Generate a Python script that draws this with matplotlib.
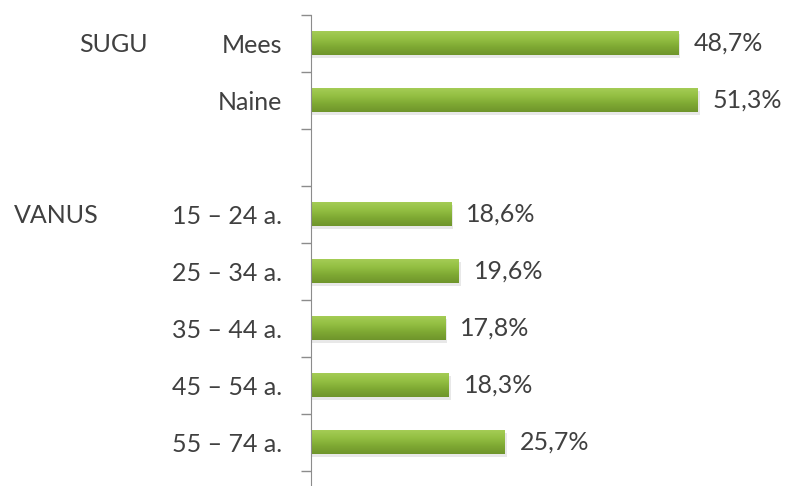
import matplotlib
matplotlib.use("Agg")
import matplotlib.pyplot as plt
import numpy as np

categories = ["Mees", "Naine", "", "15 – 24 a.", "25 – 34 a.", "35 – 44 a.", "45 – 54 a.", "55 – 74 a."]
values = [48.7, 51.3, None, 18.6, 19.6, 17.8, 18.3, 25.7]
groups = ["SUGU", "VANUS"]

W, H = 794, 486
plt.rcParams['font.family'] = ['Lato', 'DejaVu Sans']
text_color = "#404040"
fs = 18

fig = plt.figure(figsize=(W / 100, H / 100), dpi=100)
# axes placed in pixel terms: spine at x=311, top at y=15
ax_left, ax_top, slot = 311, 15, 57.0
ax_w = W - ax_left
ax_h = H - ax_top
ax = fig.add_axes([ax_left / W, 0, ax_w / W, ax_h / H])

px_per_pct = 7.54

# green gradient, light on top, darker at bottom
grad = np.linspace(0, 1, 64).reshape(-1, 1)
cmap = matplotlib.colors.LinearSegmentedColormap.from_list(
    "g", ["#a4cc55", "#93bf42", "#7ea833", "#6f952b"])
bar_h = 0.42
for i, v in enumerate(values):
    if v is None:
        continue
    # soft shadow
    ax.barh(i + 0.05, v + 0.25, height=bar_h, color="#d9d9d9", alpha=0.6, zorder=1)
    ax.imshow(grad, aspect="auto", cmap=cmap,
              extent=(0, v, i + bar_h / 2, i - bar_h / 2), zorder=2)
    ax.text(v + 2.0, i, f"{v:.1f}%".replace(".", ","), va="center", ha="left",
            fontsize=fs, color=text_color)
ax.set_xlim(0, ax_w / px_per_pct)
ax.set_ylim(-0.5 + ax_h / slot, -0.5)

ax.set_yticks(range(len(categories)))
ax.set_yticklabels(categories, fontsize=fs, color=text_color)
ax.tick_params(axis="y", which="major", length=0, pad=21)
ax.set_yticks(np.arange(-0.5, len(categories) + 0.5, 1), minor=True)
ax.tick_params(axis="y", which="minor", length=7, color="#8c8c8c", width=1)
ax.set_xticks([])
for s in ["top", "right", "bottom"]:
    ax.spines[s].set_visible(False)
ax.spines["left"].set_color("#8c8c8c")

fig.text(79 / W, 1 - 44 / H, groups[0], fontsize=fs, color=text_color, va="center", ha="left")
fig.text(14 / W, 1 - 215 / H, groups[1], fontsize=fs, color=text_color, va="center", ha="left")

fig.savefig("out.png", dpi=100)
